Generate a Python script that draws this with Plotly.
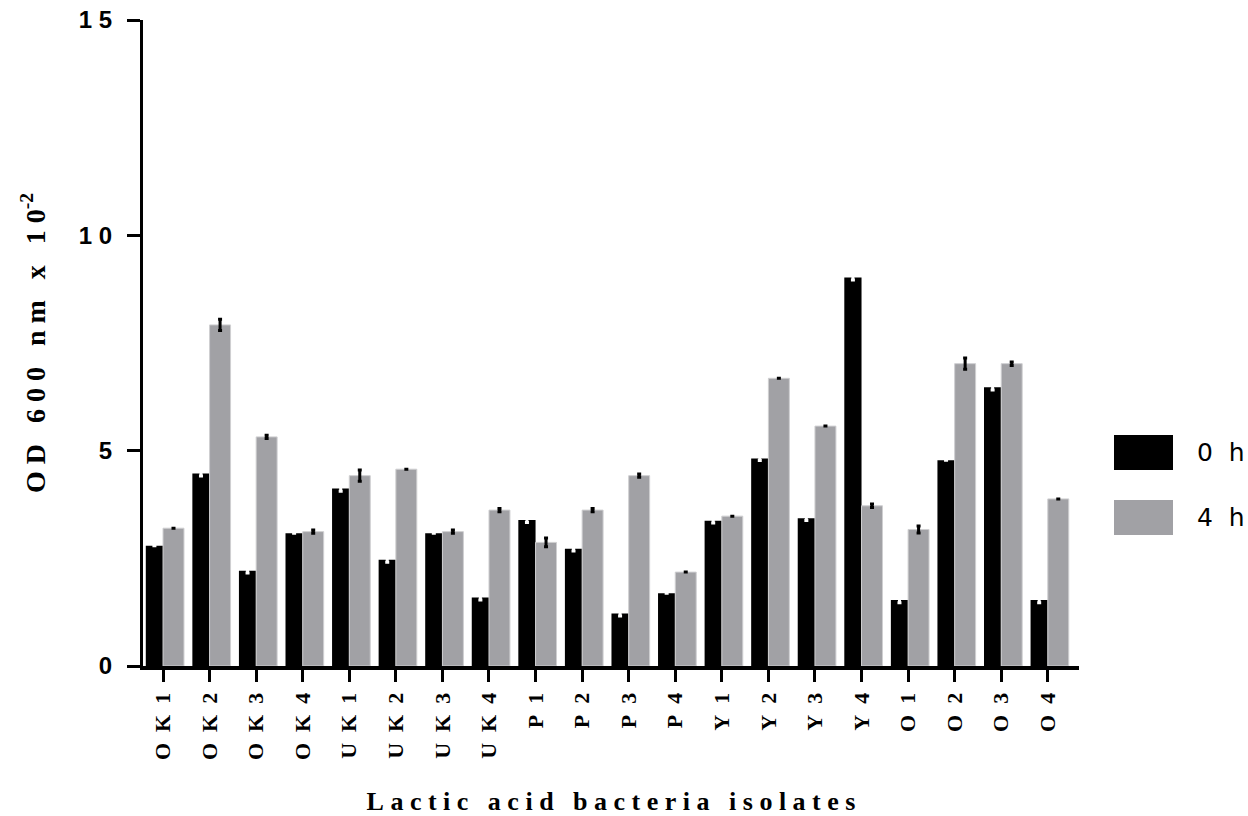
import plotly.graph_objects as go

categories = ["OK1", "OK2", "OK3", "OK4", "UK1", "UK2", "UK3", "UK4", "P1", "P2",
              "P3", "P4", "Y1", "Y2", "Y3", "Y4", "O1", "O2", "O3", "O4"]
NB = "\u00a0"
tick_labels = [(NB * 2).join(c) for c in categories]

od_0h = [2.79, 4.47, 2.21, 3.08, 4.12, 2.47, 3.08, 1.59, 3.39, 2.72,
         1.22, 1.69, 3.37, 4.82, 3.43, 9.02, 1.53, 4.78, 6.47, 1.53]
err_0h = [0.0, 0.06, 0.05, 0.0, 0.06, 0.06, 0.0, 0.06, 0.06, 0.05,
          0.06, 0.0, 0.05, 0.05, 0.05, 0.06, 0.06, 0.0, 0.06, 0.06]
od_4h = [3.20, 7.92, 5.32, 3.12, 4.42, 4.57, 3.12, 3.62, 2.87, 3.62,
         4.42, 2.18, 3.48, 6.68, 5.57, 3.72, 3.17, 7.02, 7.02, 3.88]
err_4h = [0.0, 0.13, 0.04, 0.04, 0.13, 0.0, 0.04, 0.04, 0.1, 0.04,
          0.04, 0.0, 0.0, 0.0, 0.0, 0.04, 0.08, 0.13, 0.04, 0.0]

BLACK = "#000000"
GRAY = "#a1a1a5"


def spaced(text, letter_gap=NB, word_gap=NB * 3):
    return word_gap.join(letter_gap.join(w) for w in text.split(" "))


fig = go.Figure()
fig.add_trace(go.Bar(
    x=categories, y=od_0h, name="0 h",
    marker=dict(color=BLACK, line=dict(width=0)),
    width=0.37, offset=-0.37,
    error_y=dict(type="data", array=err_0h, color="white", thickness=3, width=2),
))
fig.add_trace(go.Bar(
    x=categories, y=od_4h, name="4 h",
    marker=dict(color=GRAY, line=dict(width=1, color="#cfcfd1")),
    width=0.45, offset=0.0,
    error_y=dict(type="data", array=err_4h, color="black", thickness=3, width=2),
))

fig.update_layout(
    width=1248, height=816,
    plot_bgcolor="white", paper_bgcolor="white",
    margin=dict(l=143, r=169, t=20, b=150, autoexpand=False),
    showlegend=False,
    barmode="overlay",
)
fig.update_xaxes(
    range=[-0.43, 19.67],
    tickmode="array", tickvals=categories, ticktext=tick_labels,
    tickangle=-90,
    tickfont=dict(family="Liberation Serif", size=22, color="black", weight="bold"),
    ticks="outside", ticklen=12, tickwidth=3, tickcolor="black",
    ticklabelstandoff=2,
    showline=True, linewidth=4, linecolor="black",
    showgrid=False, zeroline=False,
    title=dict(text=spaced("Lactic acid bacteria isolates"),
               font=dict(family="Liberation Serif", size=26, color="black", weight="bold"),
               standoff=34),
)
fig.update_yaxes(
    range=[0, 15],
    tickmode="array", tickvals=[0, 5, 10, 15], ticktext=["0", "5", "1 0", "1 5"],
    tickfont=dict(family="Liberation Sans", size=24, color="black", weight="bold"),
    ticks="outside", ticklen=13, tickwidth=3, tickcolor="black",
    ticklabelstandoff=10, ticklabeloverflow="allow",
    showline=True, linewidth=3, linecolor="black",
    showgrid=False, zeroline=False,
    title=dict(text=spaced("OD 600 nm x 10") + "<sup>-2</sup>",
               font=dict(family="Liberation Serif", size=28, color="black", weight="bold"),
               standoff=26),
)


def px_x(p):
    return (p - 143) / (1079 - 143)


def px_y(p):
    return (666 - p) / (666 - 20)


legend_items = [("0 h", BLACK, 435, 470), ("4 h", GRAY, 500, 535)]
for label, color, y0, y1 in legend_items:
    fig.add_shape(type="rect", xref="paper", yref="paper",
                  x0=px_x(1114), x1=px_x(1173), y0=px_y(y1), y1=px_y(y0),
                  fillcolor=color, line=dict(width=0))
    fig.add_annotation(xref="paper", yref="paper", x=px_x(1195), y=px_y((y0 + y1) / 2),
                       text=label.replace(" ", NB * 2), showarrow=False,
                       xanchor="left", yanchor="middle",
                       font=dict(family="DejaVu Sans", size=25, color="black"))

fig.write_html(
    "out.html",
    config={"displayModeBar": False},
    post_script="document.body.style.margin='0';document.body.style.overflow='hidden';",
)
